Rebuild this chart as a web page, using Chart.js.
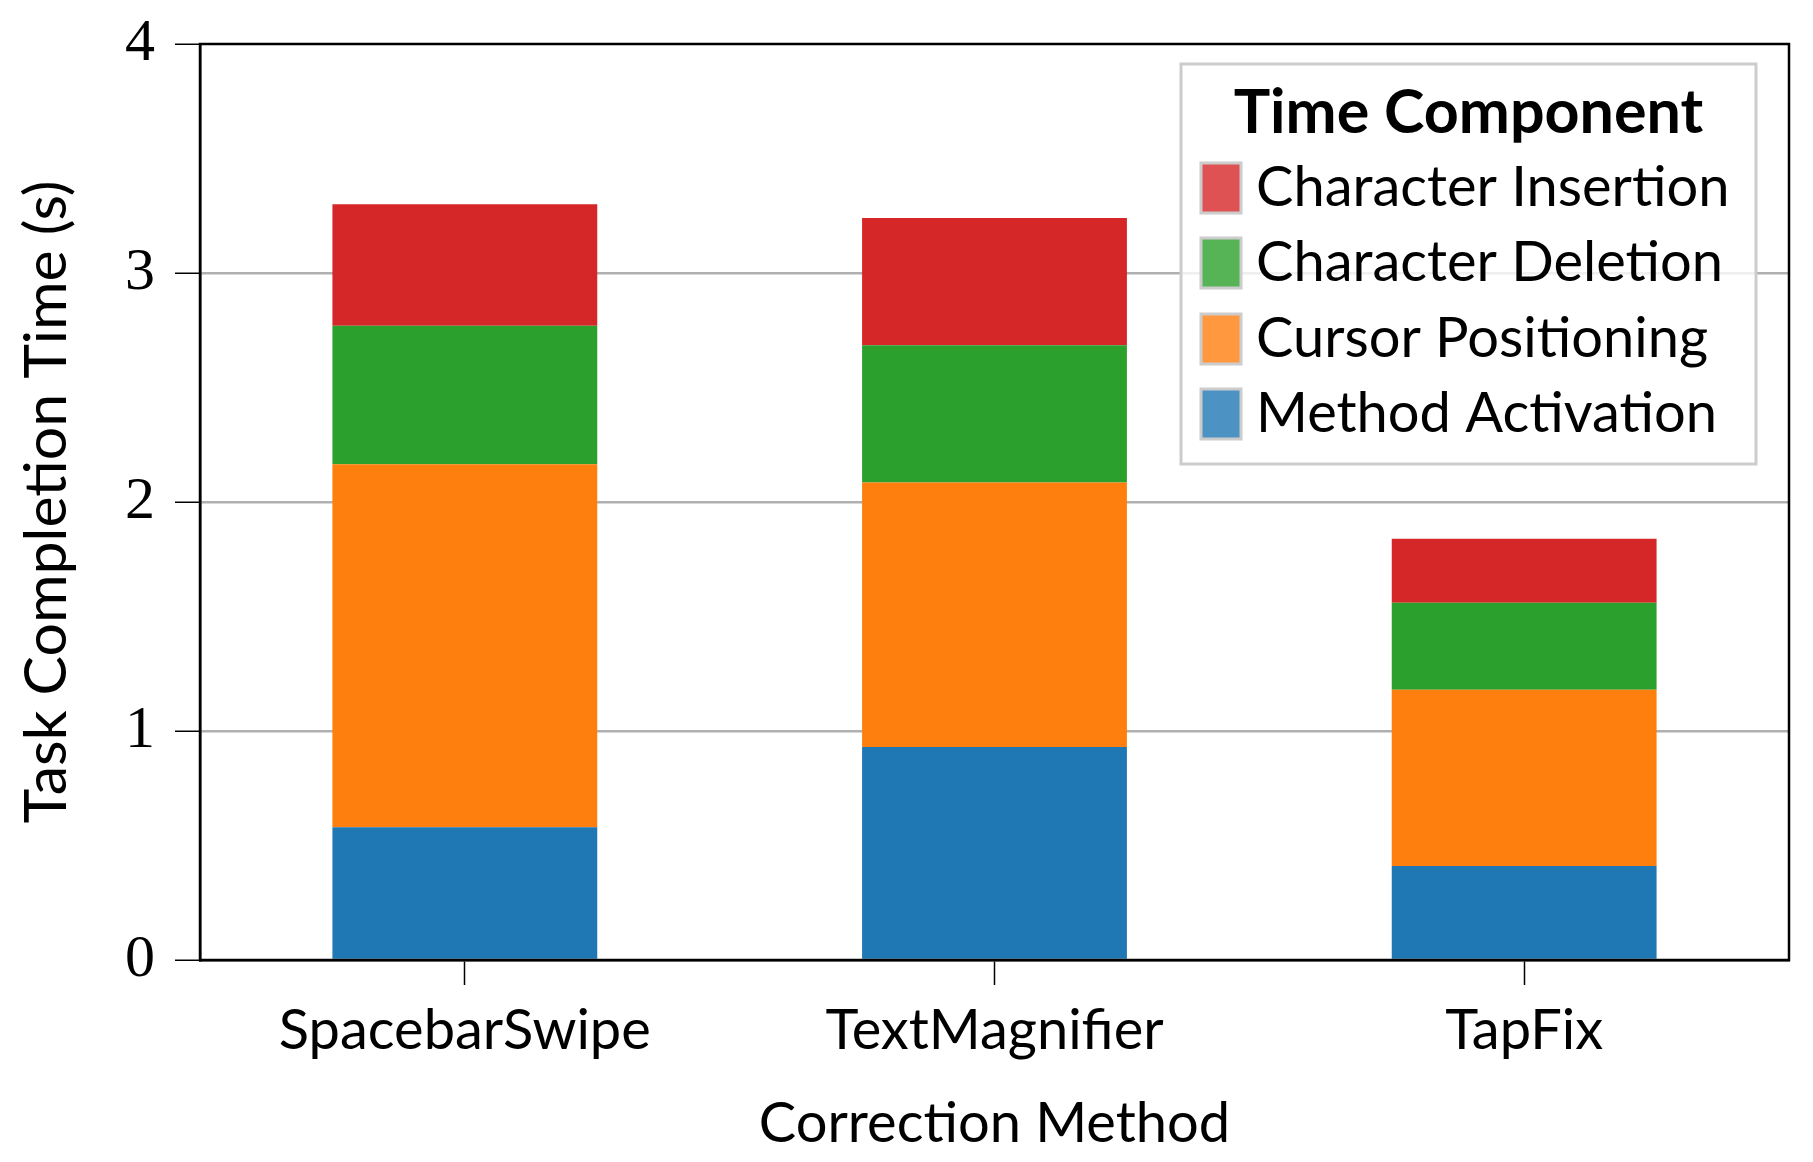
<!DOCTYPE html>
<html>
<head>
<meta charset="utf-8">
<script src="https://cdn.jsdelivr.net/npm/chart.js@4"></script>
<style>
html,body{margin:0;padding:0;background:#fff;}
#wrap{width:1813px;height:1162px;}
</style>
</head>
<body>
<div id="wrap"><canvas id="c" width="1813" height="1162"></canvas></div>
<script>
const categories = ['SpacebarSwipe', 'TextMagnifier', 'TapFix'];
const methodActivation = [0.58, 0.93, 0.41];
const cursorPositioning = [1.585, 1.155, 0.77];
const characterDeletion = [0.605, 0.60, 0.38];
const characterInsertion = [0.53, 0.555, 0.28];
const yTickValues = [0, 1, 2, 3, 4];
const seriesNames = ['Method Activation', 'Cursor Positioning', 'Character Deletion', 'Character Insertion'];
const seriesColors = ['#1f77b4', '#ff7f0e', '#2ca02c', '#d62728'];
const legendColors = ['#4c92c3', '#ff983e', '#56b356', '#de5253'];

const SANS = 'Lato, "Open Sans", sans-serif';
const SERIF = '"Liberation Serif", serif';

const frameAndLegend = {
  id: 'frameAndLegend',
  afterDraw(chart) {
    const ctx = chart.ctx;
    const a = chart.chartArea;
    ctx.save();
    // frame
    ctx.strokeStyle = '#000';
    ctx.lineWidth = 2.5;
    ctx.strokeRect(a.left, a.top, a.right - a.left, a.bottom - a.top);
    // legend box
    const bx = 1181, by = 64, bw = 575, bh = 400;
    ctx.fillStyle = 'rgba(255,255,255,0.8)';
    ctx.fillRect(bx, by, bw, bh);
    ctx.strokeStyle = '#cccccc';
    ctx.lineWidth = 3;
    ctx.strokeRect(bx, by, bw, bh);
    ctx.fillStyle = '#000';
    ctx.textBaseline = 'middle';
    ctx.textAlign = 'center';
    ctx.font = 'bold 61px ' + SANS;
    ctx.fillText('Time Component', bx + bw / 2, 113);
    ctx.textAlign = 'left';
    ctx.font = '56px ' + SANS;
    const ds = chart.data.datasets;
    const rows = [188, 263, 339, 414];
    for (let i = 0; i < ds.length; i++) {
      const idx = ds.length - 1 - i;
      const d = ds[idx];
      const cy = rows[i];
      ctx.fillStyle = legendColors[idx];
      ctx.fillRect(1201, cy - 25, 40, 50);
      ctx.strokeStyle = '#cccccc';
      ctx.lineWidth = 3;
      ctx.strokeRect(1201, cy - 25, 40, 50);
      ctx.fillStyle = '#000';
      ctx.fillText(d.label, 1256, cy);
    }
    ctx.restore();
  }
};

const seriesData = [methodActivation, cursorPositioning, characterDeletion, characterInsertion];

new Chart(document.getElementById('c'), {
  type: 'bar',
  data: {
    labels: categories,
    datasets: seriesNames.map((n, i) => ({
      label: n,
      data: seriesData[i],
      backgroundColor: seriesColors[i],
      borderWidth: 0,
      categoryPercentage: 1.0,
      barPercentage: 0.5
    }))
  },
  options: {
    responsive: false,
    devicePixelRatio: 1,
    animation: false,
    layout: { padding: { left: 0, right: 24, top: 44, bottom: 0 } },
    plugins: { legend: { display: false }, tooltip: { enabled: false } },
    scales: {
      x: {
        stacked: true,
        offset: true,
        grid: { display: true, drawOnChartArea: false, drawTicks: true, tickLength: 25, tickColor: '#000', tickWidth: 1.5, offset: false },
        border: { display: true, color: '#000', width: 2.5 },
        ticks: { color: '#000', font: { family: SANS, size: 56 }, padding: 12, maxRotation: 0 },
        title: { display: true, text: 'Correction Method', color: '#000', font: { family: SANS, size: 56 }, padding: { top: 0, bottom: 4 } },
        afterFit(s) { s.height = 202; }
      },
      y: {
        stacked: true,
        min: 0,
        max: 4,
        afterBuildTicks(s) { s.ticks = yTickValues.map(v => ({ value: v })); },
        grid: {
          color: (c) => (c.tick && (c.tick.value === 0 || c.tick.value === 4)) ? 'rgba(0,0,0,0)' : '#b0b0b0',
          lineWidth: 2.5,
          drawTicks: true, tickLength: 25, tickColor: '#000', tickWidth: 1.5
        },
        border: { display: true, color: '#000', width: 2.5 },
        ticks: { color: '#000', font: { family: SERIF, size: 60 }, padding: 20 },
        title: { display: true, text: 'Task Completion Time (s)', color: '#000', font: { family: SANS, size: 59 }, padding: { top: 12, bottom: 0 } },
        afterFit(s) { s.width = 200; s.paddingTop = 0; s.paddingBottom = 0; }
      }
    }
  },
  plugins: [frameAndLegend]
});
</script>
</body>
</html>
